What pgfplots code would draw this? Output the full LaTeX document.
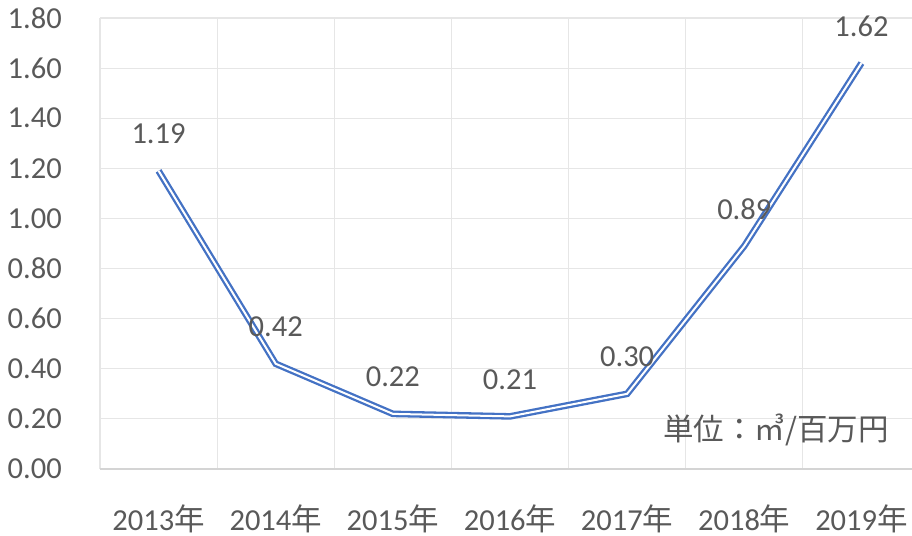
\documentclass[border=0pt]{standalone}
\usepackage{fontspec}
\setmainfont{Carlito}
\newfontfamily\cjk{Noto Sans CJK JP}
\usepackage{pgfplots}
\pgfplotsset{compat=1.18}
\definecolor{txt}{HTML}{595959}
\definecolor{gridc}{HTML}{E6E6E6}
\definecolor{axisc}{HTML}{D4D4D4}
\definecolor{linec}{HTML}{4472C4}
\begin{document}
\begin{tikzpicture}[x=1pt,y=1pt]
\begin{axis}[
  at={(100pt,66pt)}, anchor=south west,
  scale only axis, width=820pt, height=451pt,
  xmin=-0.5, xmax=6.5, ymin=0, ymax=1.8,
  clip=false,
  xtick={0,1,2,3,4,5,6},
  xticklabels={2013{\cjk 年},2014{\cjk 年},2015{\cjk 年},2016{\cjk 年},2017{\cjk 年},2018{\cjk 年},2019{\cjk 年}},
  minor xtick={-0.5,0.5,1.5,2.5,3.5,4.5,5.5,6.5},
  ytick={0,0.2,0.4,0.6,0.8,1.0,1.2,1.4,1.6,1.8},
  xminorgrids, ymajorgrids,
  major grid style={draw=gridc, line width=1.2pt},
  minor grid style={draw=gridc, line width=1.2pt},
  major tick length=0pt, minor tick length=0pt,
  axis line style={draw=none},
  tick label style={font=\fontsize{30.5}{36}\selectfont, text=txt},
  yticklabel style={/pgf/number format/fixed, /pgf/number format/fixed zerofill, /pgf/number format/precision=2, /pgf/number format/assume math mode=true, anchor=east, inner sep=0pt, xshift=-38pt},
  xticklabel style={anchor=center, inner sep=0pt, yshift=-50pt},
  nodes near coords,
  nodes near coords style={/pgf/number format/fixed, /pgf/number format/fixed zerofill, /pgf/number format/precision=2, /pgf/number format/assume math mode=true},
  every node near coord/.append style={anchor=center, yshift=37pt, inner sep=0pt, font=\fontsize{30.5}{36}\selectfont, text=txt},
]
\draw[axisc, line width=1.5pt] (rel axis cs:0,0) -- (rel axis cs:1,0);
\addplot[linec, line width=2.3pt, double=white, double distance=2pt, mark=none] coordinates {
  (0,1.19) (1,0.42) (2,0.22) (3,0.21) (4,0.30) (5,0.89) (6,1.62)
};
\node[anchor=center, inner sep=0pt, font=\fontsize{30.5}{36}\selectfont, text=txt] at (axis cs:5.27,0.156) {\cjk 単位：㎥/百万円};
\end{axis}
\pgfresetboundingbox
\useasboundingbox (0,0) rectangle (912,535);
\end{tikzpicture}
\end{document}
